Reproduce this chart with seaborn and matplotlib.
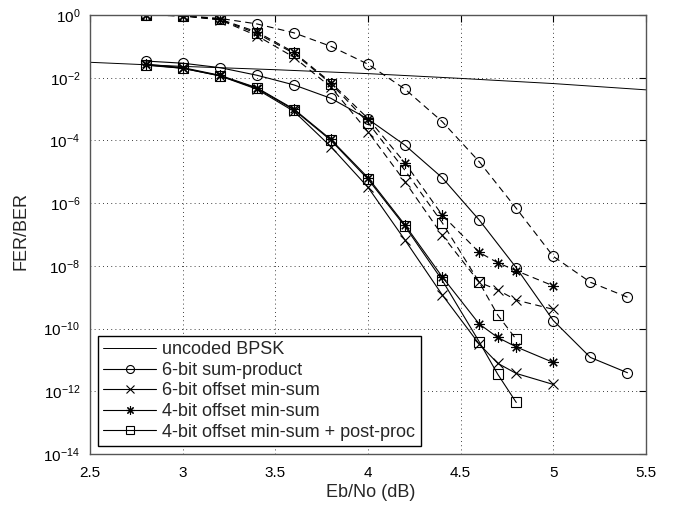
import seaborn as sns
import matplotlib.pyplot as plt

# uncoded BPSK reference
ebno_bpsk = [2.5, 3.0, 3.5, 4.0, 4.5, 5.0, 5.5]
ber_bpsk = [3.1e-2, 2.3e-2, 1.8e-2, 1.35e-2, 9.5e-3, 6.5e-3, 4.1e-3]

# 6-bit sum-product
ebno_sp = [2.8, 3.0, 3.2, 3.4, 3.6, 3.8, 4.0, 4.2, 4.4, 4.6, 4.8, 5.0, 5.2, 5.4]
ber_sp = [3.4e-2, 2.9e-2, 2.1e-2, 1.2e-2, 5.9e-3, 2.2e-3, 4.8e-4, 7e-5, 6.5e-6,
          2.9e-7, 8.7e-9, 1.8e-10, 1.2e-11, 3.9e-12]
fer_sp = [1.0, 0.95, 0.78, 0.52, 0.27, 0.10, 2.7e-2, 4.3e-3, 4e-4, 2.1e-5,
          6.8e-7, 2.0e-8, 3e-9, 1.0e-9]

# offset min-sum decoders
ebno_ms = [2.8, 3.0, 3.2, 3.4, 3.6, 3.8, 4.0, 4.2, 4.4, 4.6, 4.7, 4.8, 5.0]
ber_oms6 = [2.6e-2, 2.0e-2, 1.15e-2, 4.3e-3, 8.5e-4, 6.3e-5, 3.2e-6, 6.6e-8,
            1.2e-9, 3.2e-11, 7.8e-12, 3.7e-12, 1.65e-12]
fer_oms6 = [1.0, 0.93, 0.70, 0.22, 4.5e-2, 5e-3, 1.9e-4, 4.8e-6, 9.6e-8,
            3e-9, 1.7e-9, 8.1e-10, 4.1e-10]
ber_oms4 = [2.7e-2, 2.1e-2, 1.2e-2, 4.8e-3, 1.0e-3, 1.07e-4, 6.5e-6, 2.0e-7,
            4.5e-9, 1.4e-10, 5.2e-11, 2.6e-11, 8.3e-12]
fer_oms4 = [1.0, 0.95, 0.74, 0.29, 6.5e-2, 7e-3, 5e-4, 1.9e-5, 4.2e-7,
            2.7e-8, 1.26e-8, 7e-9, 2.3e-9]

ebno_pp = [2.8, 3.0, 3.2, 3.4, 3.6, 3.8, 4.0, 4.2, 4.4, 4.6, 4.7, 4.8]
ber_pp = [2.5e-2, 2.0e-2, 1.15e-2, 4.6e-3, 9.5e-4, 1.0e-4, 5.8e-6, 1.8e-7,
          3.5e-9, 3.8e-11, 3.5e-12, 4.4e-13]
fer_pp = [1.0, 0.95, 0.72, 0.26, 6e-2, 6.5e-3, 3.7e-4, 1.1e-5, 2.4e-7,
          3e-9, 2.7e-10, 4.5e-11]

sns.set_style("white")
plt.rcParams["font.family"] = ["Liberation Sans", "DejaVu Sans"]
plt.rcParams["font.size"] = 10.5

fig = plt.figure(figsize=(6.73, 5.08), dpi=100)
ax = fig.add_axes([0.1337, 0.1063, 0.8262, 0.8642])

dash = (0, (6, 4))
styl = dict(color="k", lw=0.8, mfc="none", mec="k", mew=0.8, errorbar=None)

sns.lineplot(x=ebno_bpsk, y=ber_bpsk, ax=ax, color="k", lw=0.7, label="uncoded BPSK")

sns.lineplot(x=ebno_sp, y=ber_sp, ax=ax, marker="o", markersize=7.2,
             label="6-bit sum-product", **styl)
sns.lineplot(x=ebno_sp, y=fer_sp, ax=ax, marker="o", markersize=7.2,
             linestyle=dash, **styl)

sns.lineplot(x=ebno_ms, y=ber_oms6, ax=ax, marker="x", markersize=6.5,
             label="6-bit offset min-sum", **styl)
sns.lineplot(x=ebno_ms, y=fer_oms6, ax=ax, marker="x", markersize=6.5,
             linestyle=dash, **styl)

sns.lineplot(x=ebno_ms, y=ber_oms4, ax=ax, marker=(8, 2, 0), markersize=7.5,
             label="4-bit offset min-sum", **styl)
sns.lineplot(x=ebno_ms, y=fer_oms4, ax=ax, marker=(8, 2, 0), markersize=7.5,
             linestyle=dash, **styl)

sns.lineplot(x=ebno_pp, y=ber_pp, ax=ax, marker="s", markersize=6.5,
             label="4-bit offset min-sum + post-proc", **styl)
sns.lineplot(x=ebno_pp, y=fer_pp, ax=ax, marker="s", markersize=6.5,
             linestyle=dash, **styl)

ax.set_yscale("log")
ax.set_xlim(2.5, 5.5)
ax.set_ylim(1e-14, 1e0)
ax.set_xticks([2.5, 3, 3.5, 4, 4.5, 5, 5.5])
ax.set_xticklabels(["2.5", "3", "3.5", "4", "4.5", "5", "5.5"])
ax.set_yticks([10.0 ** (-k) for k in range(0, 15, 2)])
ax.minorticks_off()
ax.tick_params(direction="in", top=True, right=True, length=5, width=0.8,
               labelsize=11, colors="k")
ax.tick_params(axis="x", pad=9)
ax.tick_params(axis="y", pad=7)
ax.grid(True, linestyle=(0, (1, 4)), color="k", lw=0.6)
for s in ax.spines.values():
    s.set_color("#555555")
    s.set_linewidth(1.0)

ax.set_xlabel("Eb/No (dB)", fontsize=13)
ax.set_ylabel("FER/BER", fontsize=13)
ax.xaxis.set_label_coords(0.504, -0.068)
ax.yaxis.set_label_coords(-0.108, 0.508)

leg = ax.legend(loc="lower left", bbox_to_anchor=(0.0144, 0.018), fontsize=13,
                handlelength=2.9, labelspacing=0.2, borderpad=0.3,
                borderaxespad=0, handletextpad=0.35, fancybox=False,
                framealpha=1, markerscale=0.8)
leg.get_frame().set_edgecolor("k")
leg.get_frame().set_linewidth(1.0)

fig.savefig("out.png", dpi=100)
